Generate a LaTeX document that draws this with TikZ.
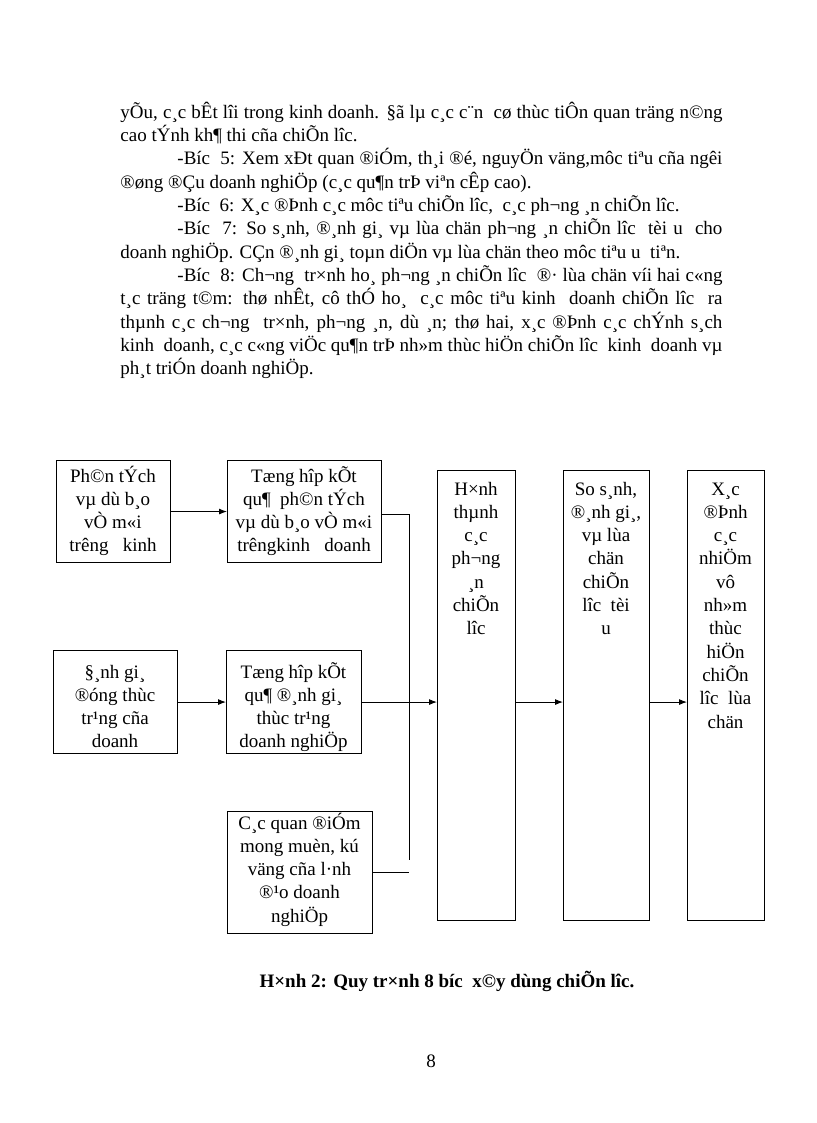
\documentclass[tikz,border=0pt]{standalone}
\usepackage{fontspec}
\setmainfont{Liberation Serif}
\usetikzlibrary{arrows.meta,positioning}
\newcommand{\boxlines}[1]{\begin{tabular}[t]{@{}c@{}}#1\end{tabular}}

\begin{document}
\begin{tikzpicture}[x=1pt,y=-1pt,>={Latex[length=8pt,width=6pt]},line width=0.9pt,
    box/.style={draw,line width=1.1pt,inner sep=0pt,anchor=north west},
    boxtext/.style={anchor=base,inner sep=0pt,font=\fontsize{19}{23.3}\selectfont},
    body/.style={anchor=base west,inner sep=0pt,font=\fontsize{19}{23.3}\selectfont}]
        \useasboundingbox (0,0) rectangle (816,1123);
        % 正文
        \node[body] (l1) at (120,118.4) {\makebox[602pt][s]{yÕu, c¸c bÊt lîi trong kinh doanh. §ã lµ c¸c c¨n\ \ cø thùc tiÔn quan träng n©ng}};
        \node[body] (l2) at (120,141.7) {cao tÝnh kh¶ thi cña chiÕn lîc.};
        \node[body] (l3) at (177,165) {\makebox[545pt][s]{-Bíc\ \ 5: Xem xÐt quan ®iÓm, th¸i ®é, nguyÖn väng,môc tiªu cña ngêi}};
        \node[body] (l4) at (120,188.3) {®øng ®Çu doanh nghiÖp (c¸c qu¶n trÞ viªn cÊp cao).};
        \node[body] (l5) at (177,211.6) {-Bíc\ \ 6: X¸c ®Þnh c¸c môc tiªu chiÕn lîc,\ \ c¸c ph¬ng ¸n chiÕn lîc.};
        \node[body] (l6) at (177,234.9) {\makebox[545pt][s]{-Bíc\ \ 7: So s¸nh, ®¸nh gi¸ vµ lùa chän ph¬ng ¸n chiÕn lîc\ \ tèi u\ \ cho}};
        \node[body] (l7) at (120,258.2) {doanh nghiÖp. CÇn ®¸nh gi¸ toµn diÖn vµ lùa chän theo môc tiªu u\ \ tiªn.};
        \node[body] (l8) at (177,281.5) {\makebox[545pt][s]{-Bíc\ \ 8: Ch¬ng\ \ tr×nh ho¸ ph¬ng ¸n chiÕn lîc\ \ ®· lùa chän víi hai c«ng}};
        \node[body] (l9) at (120,304.8) {\makebox[602pt][s]{t¸c träng t©m: thø nhÊt, cô thÓ ho¸\ \ c¸c môc tiªu kinh\ \ doanh chiÕn lîc\ \ ra}};
        \node[body] (l10) at (120,328.1) {\makebox[602pt][s]{thµnh c¸c ch¬ng\ \ tr×nh, ph¬ng ¸n, dù ¸n; thø hai, x¸c ®Þnh c¸c chÝnh s¸ch}};
        \node[body] (l11) at (120,351.4) {\makebox[602pt][s]{kinh\ \ doanh, c¸c c«ng viÖc qu¶n trÞ nh»m thùc hiÖn chiÕn lîc\ \ kinh\ \ doanh vµ}};
        \node[body] (l12) at (120,374.7) {ph¸t triÓn doanh nghiÖp.};
        % 左侧方框
        \node[box,minimum width=114pt,minimum height=102pt] (phantich) at (56,460) {};
        \node[boxtext] at (113,482) {\boxlines{Ph©n tÝch\\vµ dù b¸o\\vÒ m«i\\trêng\ \ \ kinh}};
        \node[box,minimum width=154pt,minimum height=102pt] (tonghop1) at (227,460) {};
        \node[boxtext] at (304,482) {\boxlines{Tæng hîp kÕt\\qu¶\ \ ph©n tÝch\\vµ dù b¸o vÒ m«i\\trêngkinh\ \ \ doanh}};
        \node[box,minimum width=124pt,minimum height=103pt] (danhgia) at (53,650) {};
        \node[boxtext] at (115,678) {\boxlines{§¸nh gi¸\\®óng thùc\\tr¹ng cña\\doanh}};
        \node[box,minimum width=135pt,minimum height=103pt] (tonghop2) at (226,650) {};
        \node[boxtext] at (293.5,678) {\boxlines{Tæng hîp kÕt\\qu¶ ®¸nh gi¸\\thùc tr¹ng\\doanh nghiÖp}};
        \node[box,minimum width=145pt,minimum height=122pt] (quandiem) at (227,811) {};
        \node[boxtext] at (299.5,829) {\boxlines{C¸c quan ®iÓm\\mong muèn, kú\\väng cña l·nh\\®¹o doanh\\nghiÖp}};
        % 右侧竖框
        \node[box,minimum width=78pt,minimum height=450pt] (hinhthanh) at (437,470) {};
        \node[boxtext] at (476,495) {\boxlines{H×nh\\thµnh\\c¸c\\ph¬ng\\¸n\\chiÕn\\lîc}};
        \node[box,minimum width=86pt,minimum height=450pt] (sosanh) at (563,470) {};
        \node[boxtext] at (606,495) {\boxlines{So s¸nh,\\®¸nh gi¸,\\vµ lùa\\chän\\chiÕn\\lîc\ \ tèi\\u}};
        \node[box,minimum width=77pt,minimum height=450pt] (xacdinh) at (687,470) {};
        \node[boxtext] at (725.5,495) {\boxlines{X¸c\\®Þnh\\c¸c\\nhiÖm\\vô\\nh»m\\thùc\\hiÖn\\chiÕn\\lîc\ \ lùa\\chän}};
        % 连线
        \coordinate (gtop) at (409,514);
        \coordinate (gbot) at (409,860);
        \draw [->] (phantich.east) -- (tonghop1.west);
        \draw [->] (danhgia.east) -- (tonghop2.west);
        \draw (tonghop1.east |- gtop) -- (gtop) -- (gbot);
        \draw (quandiem.east) -- (quandiem.east -| gtop);
        \draw [->] (tonghop2.east) -- (tonghop2.east -| hinhthanh.west);
        \draw [->] (hinhthanh.east |- tonghop2.east) -- (sosanh.west |- tonghop2.east);
        \draw [->] (sosanh.east |- tonghop2.east) -- (xacdinh.west |- tonghop2.east);
        % 图题与页码
        \node[font=\bfseries\fontsize{19}{23.3}\selectfont,anchor=base,inner sep=0pt] (caption) at (447,987) {H×nh 2: Quy tr×nh 8 bíc\ \ x©y dùng chiÕn lîc.};
        \node[font=\fontsize{19}{23.3}\selectfont,anchor=base,inner sep=0pt] (page) at (431,1067) {8};
\end{tikzpicture}
\end{document}
